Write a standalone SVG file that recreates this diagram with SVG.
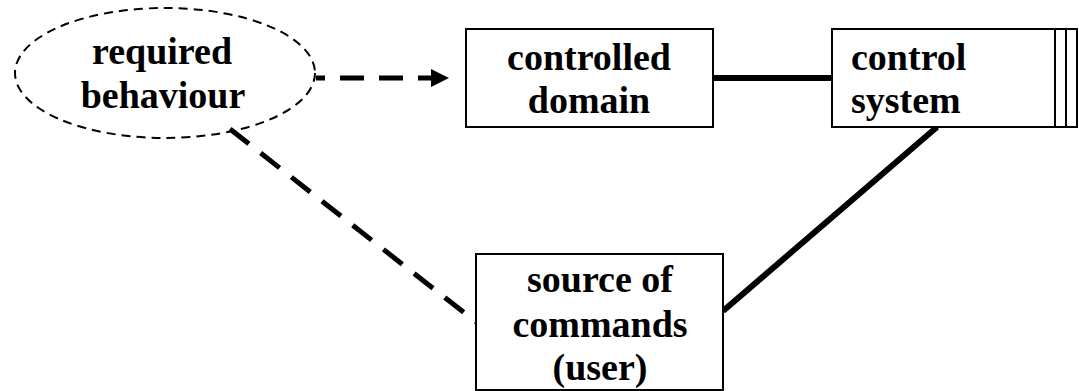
<svg xmlns="http://www.w3.org/2000/svg" width="1079" height="391" viewBox="0 0 1079 391">
  <style>
    .box { fill: #fff; stroke: #000; stroke-width: 2; }
    .label { font-family: "Liberation Serif", "Times New Roman", serif; font-weight: bold; font-size: 38px; fill: #000; }
    .mid { text-anchor: middle; }
    .goal { fill: none; stroke: #000; stroke-width: 2; stroke-dasharray: 9 6; }
    .link { fill: none; stroke: #000; stroke-width: 6; }
    .ref { fill: none; stroke: #000; stroke-width: 5; stroke-dasharray: 24 15; }
  </style>
  <defs>
    <marker id="arrow" markerUnits="userSpaceOnUse" markerWidth="18" markerHeight="18" refX="18" refY="9" orient="auto">
      <path d="M0,0 L18,9 L0,18 Z" fill="#000"/>
    </marker>
  </defs>
  <rect width="1079" height="391" fill="#fff"/>

  <g id="connectors">
    <path class="ref" d="M316,78 H449" stroke-dashoffset="15" marker-end="url(#arrow)"/>
    <path class="link" d="M713,78 H832"/>
    <path class="link" d="M937,127 L723,311"/>
    <path class="ref" d="M230,129 L476,322"/>
  </g>

  <g id="required-behaviour">
    <ellipse class="goal" cx="165" cy="73" rx="150" ry="65"/>
    <text class="label mid" x="162" y="64">required</text>
    <text class="label mid" x="163" y="108">behaviour</text>
  </g>

  <g id="controlled-domain">
    <rect class="box" x="466" y="29" width="247" height="98"/>
    <text class="label mid" x="589" y="70">controlled</text>
    <text class="label mid" x="589" y="113">domain</text>
  </g>

  <g id="control-system">
    <rect class="box" x="832" y="29" width="245" height="98"/>
    <line x1="1055" y1="29" x2="1055" y2="127" stroke="#000" stroke-width="2"/>
    <line x1="1066" y1="29" x2="1066" y2="127" stroke="#000" stroke-width="2"/>
    <text class="label" x="851" y="70">control</text>
    <text class="label" x="851" y="113">system</text>
  </g>

  <g id="source-of-commands">
    <rect class="box" x="476" y="254" width="247" height="136"/>
    <text class="label mid" x="600" y="292">source of</text>
    <text class="label mid" x="600" y="337">commands</text>
    <text class="label mid" x="600" y="380">(user)</text>
  </g>
</svg>
